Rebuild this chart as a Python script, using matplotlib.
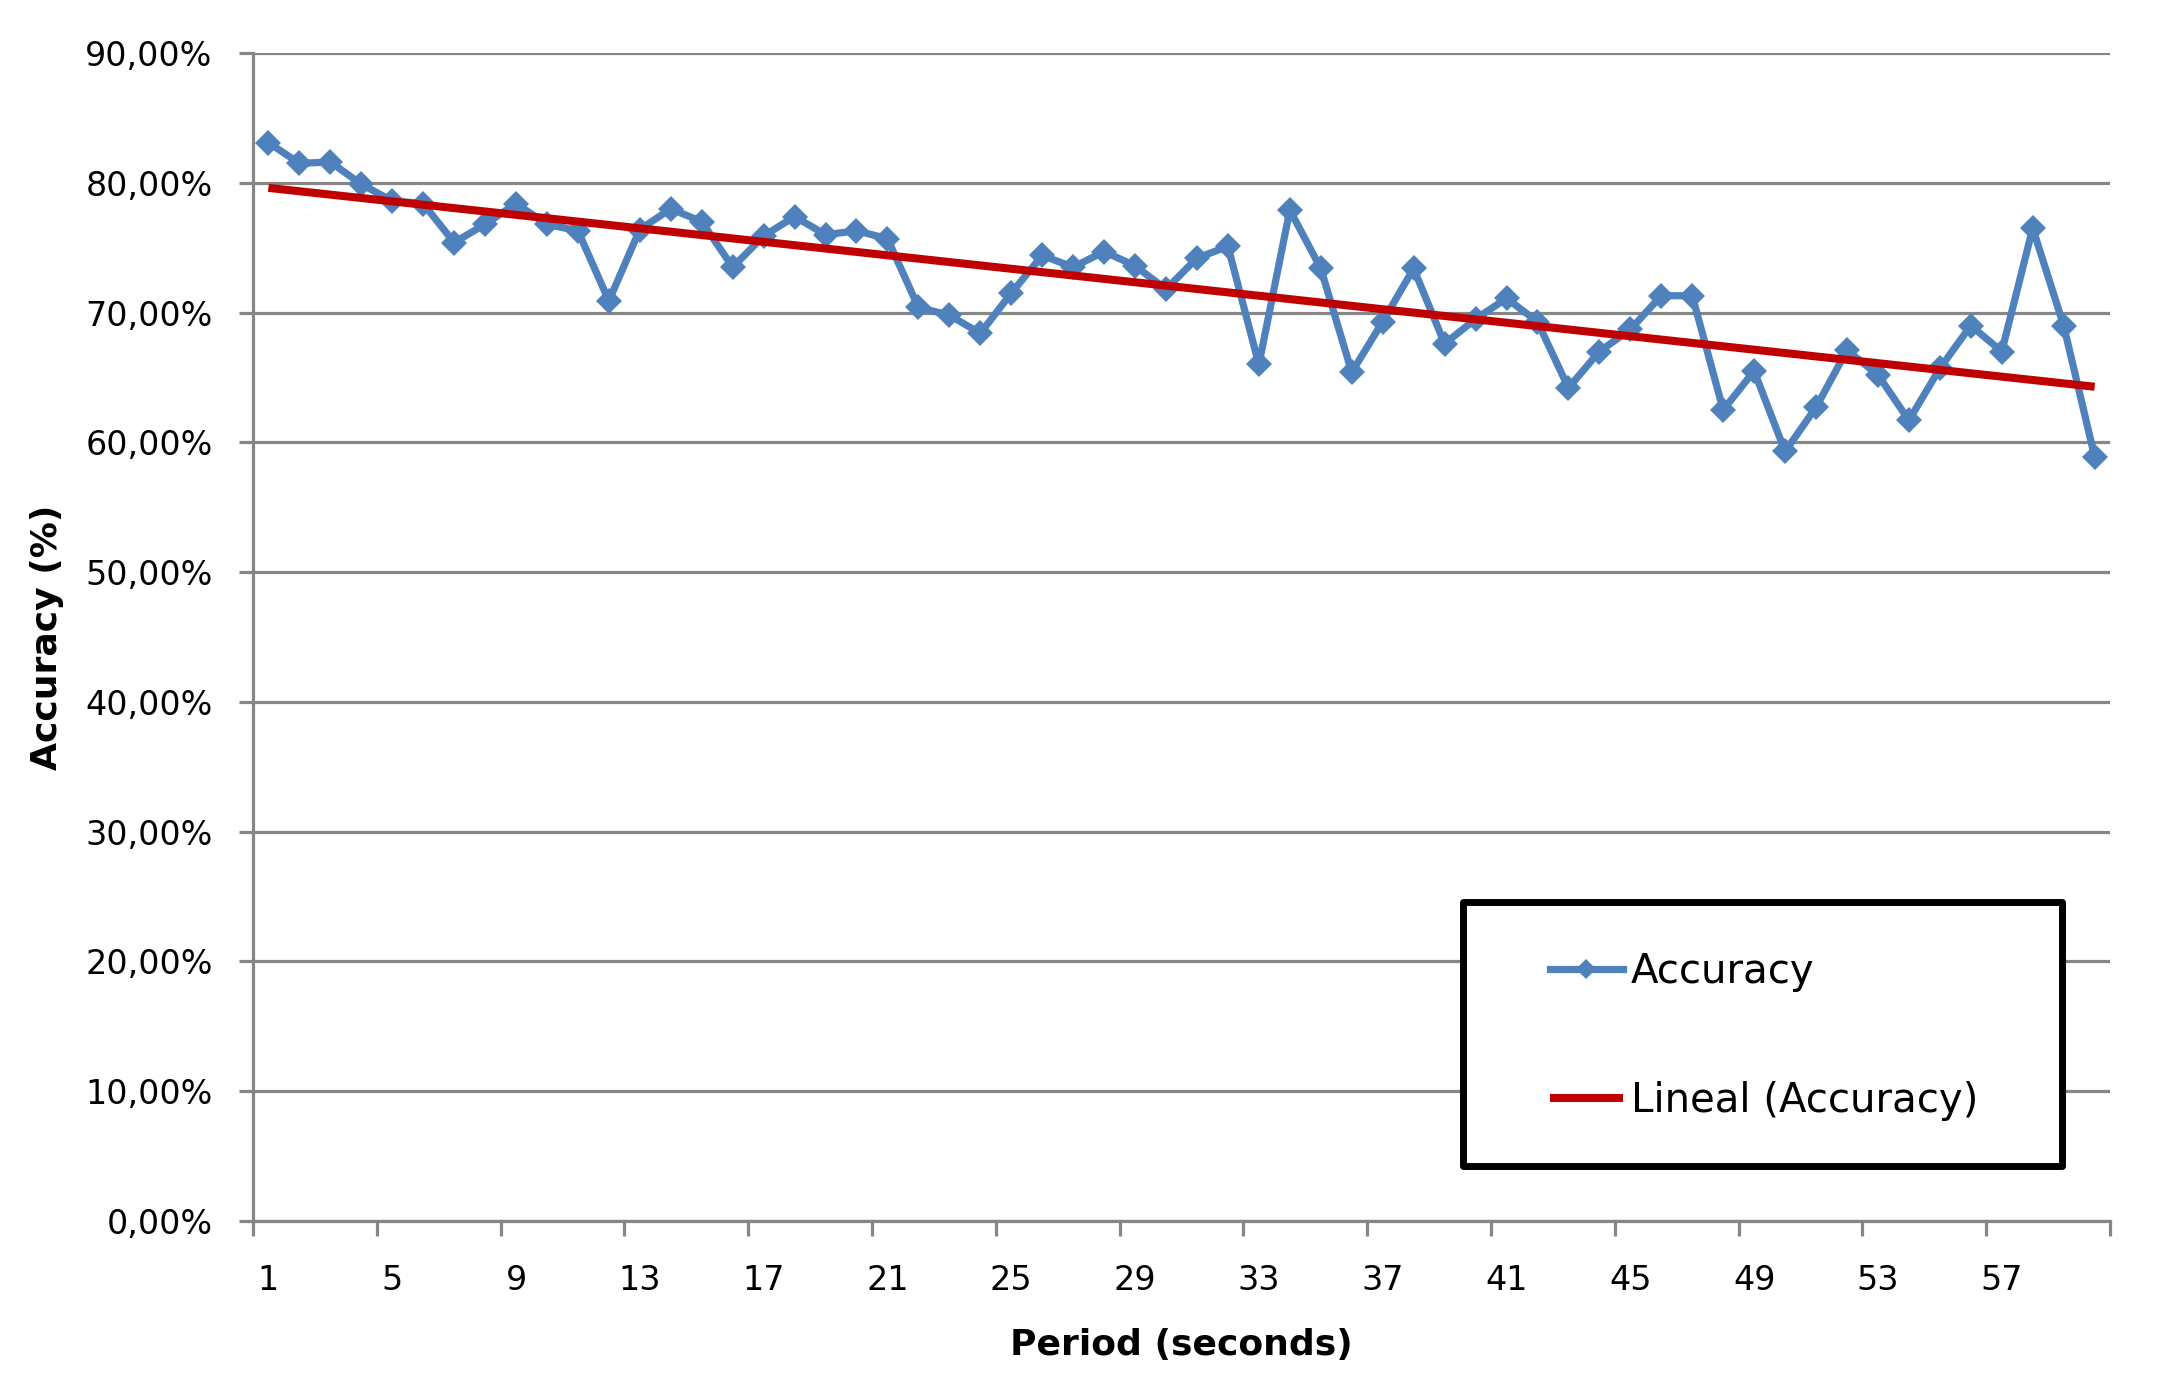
import numpy as np
import matplotlib
matplotlib.use("Agg")
import matplotlib.pyplot as plt
from matplotlib.patches import Rectangle

# ---- data ----
periods = list(range(1, 61))
accuracy = [83.1, 81.5, 81.6, 79.9, 78.6, 78.4, 75.4, 76.8, 78.4, 76.8,
            76.3, 70.9, 76.4, 78.0, 77.0, 73.5, 75.9, 77.4, 76.0, 76.3,
            75.7, 70.4, 69.8, 68.4, 71.5, 74.4, 73.5, 74.7, 73.6, 71.8,
            74.2, 75.1, 66.0, 77.9, 73.4, 65.4, 69.3, 73.4, 67.6, 69.5,
            71.1, 69.3, 64.2, 67.0, 68.7, 71.3, 71.3, 62.5, 65.5, 59.3,
            62.7, 67.1, 65.2, 61.7, 65.7, 69.0, 67.0, 76.5, 69.0, 58.9]
y_ticks = [0, 10, 20, 30, 40, 50, 60, 70, 80, 90]
y_tick_labels = ["0,00%", "10,00%", "20,00%", "30,00%", "40,00%",
                 "50,00%", "60,00%", "70,00%", "80,00%", "90,00%"]
x_tick_labels = [1, 5, 9, 13, 17, 21, 25, 29, 33, 37, 41, 45, 49, 53, 57]

series_name = "Accuracy"
trend_name = "Lineal (Accuracy)"
x_title = "Period (seconds)"
y_title = "Accuracy (%)"

blue = "#4F81BD"
red = "#C00000"
grid_gray = "#868686"

plt.rcParams['font.family'] = ['DejaVu Sans']

fig = plt.figure(figsize=(21.58, 13.99), dpi=100)
ax = fig.add_axes([0.1172, 0.1272, 0.8606, 0.8349])

x = np.array(periods, dtype=float)
y = np.array(accuracy, dtype=float)

# trend line (linear least squares fit, as Excel does)
coef = np.polyfit(x, y, 1)
trend = np.polyval(coef, x)

ax.plot(x, y, color=blue, lw=5.2, marker='D', markersize=13,
        markeredgewidth=0, label=series_name, zorder=3)
ax.plot(x, trend, color=red, lw=5.8, label=trend_name, zorder=3.5,
        solid_capstyle='butt')

ax.set_xlim(0.5, 60.5)
ax.set_ylim(0, 90)

# gridlines
ax.set_yticks(y_ticks)
ax.set_yticklabels(y_tick_labels)
ax.yaxis.grid(True, color=grid_gray, lw=2.3)
ax.set_axisbelow(True)

# x ticks: marks at category boundaries, labels at category centres
ax.set_xticks(np.arange(0.5, 61, 4))
ax.set_xticklabels([])
ax.set_xticks(x_tick_labels, minor=True)
ax.set_xticklabels([str(v) for v in x_tick_labels], minor=True)
ax.tick_params(axis='x', which='major', length=11, width=2.3, color=grid_gray)
ax.tick_params(axis='x', which='minor', length=0, pad=31, labelsize=24)
ax.tick_params(axis='y', which='major', length=10, width=2.3, color=grid_gray,
               pad=19, labelsize=24)

for s in ['top', 'right']:
    ax.spines[s].set_visible(False)
for s in ['left', 'bottom']:
    ax.spines[s].set_color(grid_gray)
    ax.spines[s].set_linewidth(2.3)

ax.set_xlabel(x_title, fontsize=26, fontweight='bold', va='center')
ax.xaxis.set_label_coords(0.5, -0.106)
ax.set_ylabel(y_title, fontsize=26, fontweight='bold', va='center')
ax.yaxis.set_label_coords(-0.111, 0.5)

# legend box
box = Rectangle((0.6516, 0.047), 0.3224, 0.226, transform=ax.transAxes,
                facecolor='white', edgecolor='black', lw=5, zorder=4,
                joinstyle='round')
ax.add_patch(box)
leg = ax.legend(loc='center left', bbox_to_anchor=(0.6985, 0.158),
                frameon=False, fontsize=29, handlelength=1.8,
                handletextpad=0.2, labelspacing=2.2, borderpad=0,
                borderaxespad=0, markerscale=0.75)
leg.set_zorder(5)

fig.savefig("out.png", dpi=100, facecolor='white')
